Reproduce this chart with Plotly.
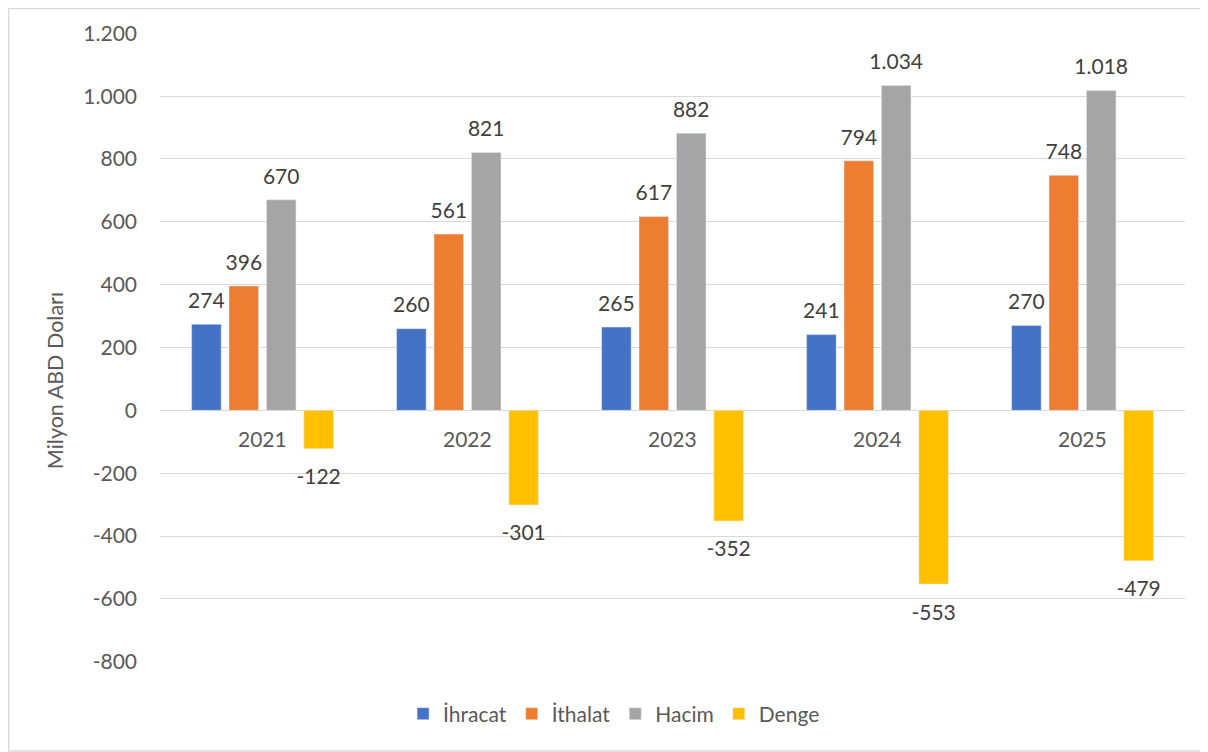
import plotly.graph_objects as go

years = ["2021", "2022", "2023", "2024", "2025"]
ihracat = [274, 260, 265, 241, 270]
ithalat = [396, 561, 617, 794, 748]
hacim = [670, 821, 882, 1034, 1018]
denge = [-122, -301, -352, -553, -479]
series_names = ["İhracat", "İthalat", "Hacim", "Denge"]
colors = ["#4472C4", "#ED7D31", "#A5A5A5", "#FFC000"]
y_ticks = [-800, -600, -400, -200, 0, 200, 400, 600, 800, 1000, 1200]


def tr_num(v):
    return f"{v:,}".replace(",", ".")


FONT = "Lato"
GAP = 0.27
fig = go.Figure()
for name, vals, col in zip(series_names, [ihracat, ithalat, hacim, denge], colors):
    fig.add_trace(go.Bar(
        x=years, y=vals, name=name, marker_color=col, offsetgroup=name,
        hoverinfo="skip",
    ))
for name, vals in zip(series_names, [ihracat, ithalat, hacim, denge]):
    fig.add_trace(go.Scatter(
        x=years, y=vals, mode="markers+text", offsetgroup=name, showlegend=False,
        text=[tr_num(v) for v in vals],
        textposition=["top center" if v >= 0 else "bottom center" for v in vals],
        textfont=dict(family=FONT, size=21, color="#404040"),
        marker=dict(size=[16 if v >= 0 else 30 for v in vals], opacity=0),
        cliponaxis=False, hoverinfo="skip",
    ))

for i, yr in enumerate(years):
    fig.add_annotation(x=i, y=0, xref="x", yref="y", text=yr, showarrow=False,
                       yanchor="top", yshift=-14,
                       font=dict(family=FONT, size=21, color="#595959"))

# y-axis title (placed like the reference, slightly below centre)
fig.add_annotation(x=-0.1025, y=0.448, xref="paper", yref="paper", text="Milyon ABD Doları",
                   textangle=-90, showarrow=False, xanchor="center", yanchor="middle",
                   font=dict(family=FONT, size=21.5, color="#595959"))

# outer chart border (left, top, bottom)
fig.add_shape(type="rect", xref="paper", yref="paper",
              x0=-0.1478, x1=1.03, y0=-0.1415, y1=1.039,
              line=dict(color="#D9D9D9", width=1.5), fillcolor="rgba(0,0,0,0)")

fig.update_layout(
    width=1200, height=744,
    margin=dict(l=152, r=23, t=25, b=90, autoexpand=False),
    paper_bgcolor="white", plot_bgcolor="white",
    barmode="group", bargap=GAP, bargroupgap=0.21,
    scattermode="group", scattergap=GAP,
    font=dict(family=FONT, color="#595959"),
    showlegend=True,
    legend=dict(orientation="h", x=0.443, xanchor="center", y=-0.0827, yanchor="middle",
                font=dict(family=FONT, size=21, color="#595959"),
                traceorder="normal"),
    xaxis=dict(type="category", range=[-0.5, 4.5], showticklabels=False, showgrid=False,
               zeroline=False, showline=False),
    yaxis=dict(range=[-801, 1201], tickvals=y_ticks, ticktext=[tr_num(v) for v in y_ticks],
               showgrid=True, gridcolor="#D9D9D9", gridwidth=1,
               zeroline=True, zerolinecolor="#D9D9D9", zerolinewidth=1,
               showline=False, ticks="", ticklabelstandoff=22,
               tickfont=dict(family=FONT, size=21, color="#595959")),
)

fig.write_html("out.html")
